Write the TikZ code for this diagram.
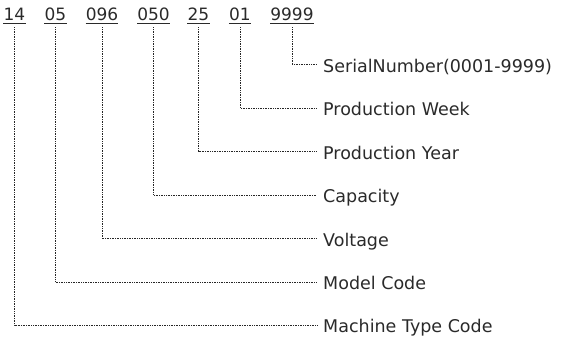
\documentclass[tikz,border=0pt]{standalone}
\usepackage{fontspec}
\setmainfont{DejaVu Sans}
\definecolor{txt}{HTML}{2A2A2A}
\begin{document}
\begin{tikzpicture}[x=1pt,y=-1pt,
  code/.style={inner sep=0pt, anchor=base, text height=13pt, text depth=3pt, text=txt, font=\fontsize{17}{20}\selectfont},
  lab/.style={inner sep=0pt, anchor=west, text height=15pt, text depth=0pt, text=txt, font=\fontsize{17.5}{21}\selectfont},
  uline/.style={draw=txt, line width=1pt},
  dots/.style={draw=black!85, line width=0.8pt, dash pattern=on 0.8pt off 0.9pt}
]
\useasboundingbox (0,0) rectangle (563,338);
% codes
\node[code] (c1) at (14.5,20.5) {14};
\node[code] (c2) at (55.5,20.5) {05};
\node[code] (c3) at (102,20.5) {096};
\node[code] (c4) at (153.5,20.5) {050};
\node[code] (c5) at (198.5,20.5) {25};
\node[code] (c6) at (240,20.5) {01};
\node[code] (c7) at (292,20.5) {9999};
\foreach \c in {c1,c2,c3,c4,c5,c6,c7}
  \draw[uline] (\c.south west) -- (\c.south east);
% labels
\node[lab] (l7) at (323,64.5) {SerialNumber(0001-9999)};
\node[lab] (l6) at (323,108) {Production Week};
\node[lab] (l5) at (323,151.5) {Production Year};
\node[lab] (l4) at (323,195) {Capacity};
\node[lab] (l3) at (323,238.5) {Voltage};
\node[lab] (l2) at (323,282) {Model Code};
\node[lab] (l1) at (323,325) {Machine Type Code};
% connectors
\foreach \i in {1,...,7}
  \draw[dots] ([yshift=-3.5pt]c\i.south) |- ([xshift=-6pt]l\i.west);
\end{tikzpicture}
\end{document}
